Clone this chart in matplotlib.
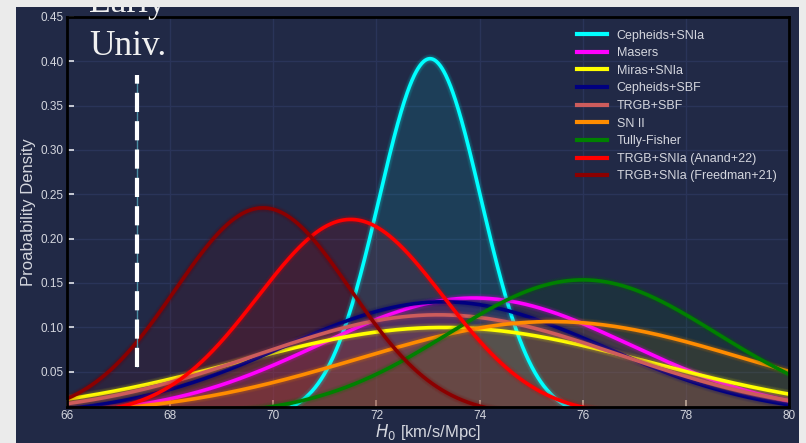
import numpy as np
import matplotlib
matplotlib.use("Agg")
import matplotlib.pyplot as plt
from matplotlib.patches import Rectangle

# H0 measurements (mean, 1-sigma) from local distance ladder methods
methods = ["Cepheids+SNIa", "Masers", "Miras+SNIa", "Cepheids+SBF", "TRGB+SBF",
           "SN II", "Tully-Fisher", "TRGB+SNIa (Anand+22)", "TRGB+SNIa (Freedman+21)"]
h0_mean  = [73.04, 73.9, 73.3, 73.3, 73.2, 75.4, 76.0, 71.5, 69.8]
h0_sigma = [0.99, 3.0, 4.0, 3.1, 3.5, 3.75, 2.6, 1.8, 1.7]
colors   = ["cyan", "magenta", "yellow", "navy", "indianred",
            "darkorange", "green", "red", "darkred"]

planck_h0 = 67.36
planck_span = (0.0556, 0.385)

bg = "#212946"
grid_c = "#2A3459"
txt_c = "#d4d6de"

plt.rcParams["font.family"] = ["Liberation Sans", "DejaVu Sans"]

fig = plt.figure(figsize=(8.06, 4.43), dpi=100, facecolor=bg)
ax = fig.add_axes([67/806, 1-407/443, 722/806, 390/443], facecolor=bg)

x = np.linspace(66, 80, 1200)
for name, mu, sig, c in zip(methods, h0_mean, h0_sigma, colors):
    y = np.exp(-0.5*((x-mu)/sig)**2) / (sig*np.sqrt(2*np.pi))
    ax.fill_between(x, y, 0, color=c, alpha=0.1, lw=0)
    # soft glow under the line
    for n in range(1, 8):
        ax.plot(x, y, color=c, lw=2.6 + 0.6*n, alpha=0.04, solid_capstyle="round")
    ax.plot(x, y, color=c, lw=2.6, label=name)

# early-universe (Planck) marker
ax.vlines(planck_h0, *planck_span, color="#4a8ea3", lw=1.0, zorder=4)
ax.vlines(planck_h0, *planck_span, color="white", lw=3.0,
          linestyles=[(0, (4.6, 2.2))], zorder=5)

ax.set_xlim(66, 80)
ax.set_ylim(0.01, 0.45)
ax.set_xticks(np.arange(66, 81, 2))
ax.set_yticks(np.arange(0.05, 0.451, 0.05))
ax.set_yticklabels([f"{v:.2f}" for v in np.arange(0.05, 0.451, 0.05)])
ax.grid(True, color=grid_c, lw=1.0)
ax.set_axisbelow(True)

ax.tick_params(axis="both", direction="in", length=5, width=1.3, color=txt_c,
               labelcolor=txt_c, labelsize=8.5)
ax.tick_params(axis="y", pad=2.5)
ax.tick_params(axis="x", pad=2.5)
for s in ax.spines.values():
    s.set_color("black")
    s.set_linewidth(2.0)

ax.set_xlabel(r"$H_0$ [km/s/Mpc]", color=txt_c, fontsize=12, labelpad=0)
ax.set_ylabel("Proabability Density", color=txt_c, fontsize=12, labelpad=3)

leg = ax.legend(loc="upper right", frameon=False, fontsize=9, labelcolor=txt_c,
                handlelength=2.4, labelspacing=0.45, borderaxespad=0.6)
for h in leg.get_lines():
    h.set_linewidth(3)

fig.text(89/806, 1-12/443, "Early", family="Liberation Serif", fontsize=25.5,
         color="#f0f0f0", ha="left", va="baseline")
fig.text(89/806, 1-55/443, "Univ.", family="Liberation Serif", fontsize=25.5,
         color="#f0f0f0", ha="left", va="baseline")

# light page margins around the dark panel
edge = "#ebebeb"
for r in [(0, 1-7/443, 1, 7/443), (0, 0, 16/806, 1), (799/806, 0, 7/806, 1)]:
    fig.add_artist(Rectangle(r[:2], r[2], r[3], transform=fig.transFigure,
                             facecolor=edge, edgecolor="none", zorder=20))

fig.savefig("out.png", dpi=100, facecolor=bg)
